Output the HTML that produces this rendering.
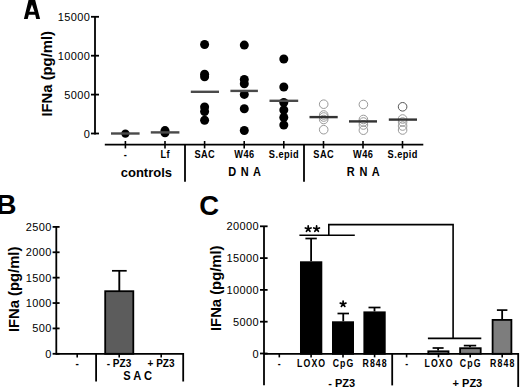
<!DOCTYPE html>
<html><head><meta charset="utf-8"><style>
html,body{margin:0;padding:0;background:#fff;}
body{width:520px;height:387px;overflow:hidden;}
svg{display:block;font-family:"Liberation Sans", sans-serif;}
</style></head><body>
<svg width="520" height="387" viewBox="0 0 520 387">
<rect width="520" height="387" fill="#fff"/>
<path fill-rule="evenodd" fill="#000" d="M23.9,18.9L28.8,-1L34.9,-1L40.1,18.9L36.2,18.9L35.2,14.7L28.8,14.7L27.7,18.9Z M29.4,11.8L34.5,11.8L31.95,4.5Z"/>
<text x="0" y="0" font-size="14.8" font-weight="bold" text-anchor="middle" transform="translate(52,73.8) rotate(-90)">IFNa (pg/ml)</text>
<line x1="95" y1="16.8" x2="95" y2="134.4" stroke="#000" stroke-width="1.8"/>
<line x1="91" y1="16.8" x2="99" y2="16.8" stroke="#000" stroke-width="1.8"/>
<text x="90.40" y="20.8" font-size="11" font-weight="normal" text-anchor="end"  letter-spacing="0.4">15000</text>
<line x1="91" y1="55.7" x2="99" y2="55.7" stroke="#000" stroke-width="1.8"/>
<text x="90.40" y="59.7" font-size="11" font-weight="normal" text-anchor="end"  letter-spacing="0.4">10000</text>
<line x1="91" y1="94.6" x2="99" y2="94.6" stroke="#000" stroke-width="1.8"/>
<text x="90.40" y="98.6" font-size="11" font-weight="normal" text-anchor="end"  letter-spacing="0.4">5000</text>
<line x1="91" y1="133.5" x2="99" y2="133.5" stroke="#000" stroke-width="1.8"/>
<text x="90.40" y="137.5" font-size="11" font-weight="normal" text-anchor="end"  letter-spacing="0.4">0</text>
<line x1="104.8" y1="144.6" x2="423.3" y2="144.6" stroke="#000" stroke-width="1.8"/>
<line x1="125.4" y1="141" x2="125.4" y2="148.4" stroke="#000" stroke-width="1.6"/>
<text x="0" y="0" font-size="10.5" font-weight="bold" text-anchor="middle" transform="translate(125.62,157.6) scale(0.88,1)"  letter-spacing="0.5">-</text>
<line x1="165" y1="141" x2="165" y2="148.4" stroke="#000" stroke-width="1.6"/>
<text x="0" y="0" font-size="10.5" font-weight="bold" text-anchor="middle" transform="translate(165.22,157.6) scale(0.88,1)"  letter-spacing="0.5">Lf</text>
<line x1="204.6" y1="141" x2="204.6" y2="148.4" stroke="#000" stroke-width="1.6"/>
<text x="0" y="0" font-size="10.5" font-weight="bold" text-anchor="middle" transform="translate(204.82,157.6) scale(0.88,1)"  letter-spacing="0.5">SAC</text>
<line x1="244.2" y1="141" x2="244.2" y2="148.4" stroke="#000" stroke-width="1.6"/>
<text x="0" y="0" font-size="10.5" font-weight="bold" text-anchor="middle" transform="translate(244.42,157.6) scale(0.88,1)"  letter-spacing="0.5">W46</text>
<line x1="283.8" y1="141" x2="283.8" y2="148.4" stroke="#000" stroke-width="1.6"/>
<text x="0" y="0" font-size="10.5" font-weight="bold" text-anchor="middle" transform="translate(284.02,157.6) scale(0.88,1)"  letter-spacing="0.5">S.epid</text>
<line x1="323.5" y1="141" x2="323.5" y2="148.4" stroke="#000" stroke-width="1.6"/>
<text x="0" y="0" font-size="10.5" font-weight="bold" text-anchor="middle" transform="translate(323.72,157.6) scale(0.88,1)"  letter-spacing="0.5">SAC</text>
<line x1="363" y1="141" x2="363" y2="148.4" stroke="#000" stroke-width="1.6"/>
<text x="0" y="0" font-size="10.5" font-weight="bold" text-anchor="middle" transform="translate(363.22,157.6) scale(0.88,1)"  letter-spacing="0.5">W46</text>
<line x1="402.5" y1="141" x2="402.5" y2="148.4" stroke="#000" stroke-width="1.6"/>
<text x="0" y="0" font-size="10.5" font-weight="bold" text-anchor="middle" transform="translate(402.72,157.6) scale(0.88,1)"  letter-spacing="0.5">S.epid</text>
<line x1="185" y1="144.5" x2="185" y2="181.8" stroke="#000" stroke-width="1.8"/>
<line x1="304" y1="144.5" x2="304" y2="181.8" stroke="#000" stroke-width="1.8"/>
<text x="146.40" y="176.6" font-size="13" font-weight="bold" text-anchor="middle" >controls</text>
<text x="0" y="0" font-size="13.4" font-weight="bold" text-anchor="middle" transform="translate(245.01,176.4) scale(0.82,1)"  letter-spacing="1.0">D N A</text>
<text x="0" y="0" font-size="13.4" font-weight="bold" text-anchor="middle" transform="translate(363.61,176.4) scale(0.82,1)"  letter-spacing="1.0">R N A</text>
<circle cx="125.4" cy="133.6" r="4.2" fill="#000"/>
<line x1="111" y1="133.5" x2="139.6" y2="133.5" stroke="#4a4a4a" stroke-width="2.4"/>
<circle cx="165" cy="130.6" r="4.5" fill="#000"/>
<circle cx="165" cy="132.8" r="4.5" fill="#000"/>
<line x1="150.8" y1="132.4" x2="179.4" y2="132.4" stroke="#4a4a4a" stroke-width="2.4"/>
<circle cx="204.6" cy="44.5" r="4.5" fill="#000"/>
<circle cx="204.6" cy="74.2" r="4.5" fill="#000"/>
<circle cx="204.6" cy="76.7" r="4.5" fill="#000"/>
<circle cx="204.6" cy="107" r="4.5" fill="#000"/>
<circle cx="204.6" cy="111.5" r="4.5" fill="#000"/>
<circle cx="204.6" cy="120.2" r="4.5" fill="#000"/>
<line x1="190.8" y1="91.8" x2="219" y2="91.8" stroke="#4a4a4a" stroke-width="2.4"/>
<circle cx="244.3" cy="45.1" r="4.5" fill="#000"/>
<circle cx="244.3" cy="79.5" r="4.5" fill="#000"/>
<circle cx="244.3" cy="83.8" r="4.5" fill="#000"/>
<circle cx="244.3" cy="94.4" r="4.5" fill="#000"/>
<circle cx="244.3" cy="108.7" r="4.5" fill="#000"/>
<circle cx="244.3" cy="130.5" r="4.5" fill="#000"/>
<line x1="230.4" y1="90.9" x2="257.9" y2="90.9" stroke="#4a4a4a" stroke-width="2.4"/>
<circle cx="283.8" cy="59" r="4.5" fill="#000"/>
<circle cx="283.8" cy="87" r="4.5" fill="#000"/>
<circle cx="283.8" cy="102.5" r="4.5" fill="#000"/>
<circle cx="283.8" cy="110" r="4.5" fill="#000"/>
<circle cx="283.8" cy="117.5" r="4.5" fill="#000"/>
<circle cx="283.8" cy="125" r="4.5" fill="#000"/>
<line x1="269.5" y1="100.8" x2="298.2" y2="100.8" stroke="#4a4a4a" stroke-width="2.4"/>
<circle cx="323.7" cy="104.2" r="4.3" fill="none" stroke="#999" stroke-width="1"/>
<circle cx="323.7" cy="115" r="4.3" fill="none" stroke="#999" stroke-width="1"/>
<circle cx="323.7" cy="117" r="4.3" fill="none" stroke="#999" stroke-width="1"/>
<circle cx="323.7" cy="119.5" r="4.3" fill="none" stroke="#999" stroke-width="1"/>
<circle cx="323.7" cy="129.7" r="4.3" fill="none" stroke="#999" stroke-width="1"/>
<line x1="309.5" y1="117.1" x2="337.7" y2="117.1" stroke="#333" stroke-width="2.4"/>
<circle cx="363.4" cy="104.5" r="4.3" fill="none" stroke="#999" stroke-width="1"/>
<circle cx="363.4" cy="119.5" r="4.3" fill="none" stroke="#999" stroke-width="1"/>
<circle cx="363.4" cy="122" r="4.3" fill="none" stroke="#999" stroke-width="1"/>
<circle cx="363.4" cy="125" r="4.3" fill="none" stroke="#999" stroke-width="1"/>
<circle cx="363.4" cy="130.2" r="4.3" fill="none" stroke="#999" stroke-width="1"/>
<line x1="349" y1="121.4" x2="377" y2="121.4" stroke="#333" stroke-width="2.4"/>
<circle cx="402.6" cy="106.8" r="4.3" fill="none" stroke="#555" stroke-width="1"/>
<circle cx="402.6" cy="119" r="4.3" fill="none" stroke="#999" stroke-width="1"/>
<circle cx="402.6" cy="122" r="4.3" fill="none" stroke="#999" stroke-width="1"/>
<circle cx="402.6" cy="126" r="4.3" fill="none" stroke="#999" stroke-width="1"/>
<circle cx="402.6" cy="130" r="4.3" fill="none" stroke="#999" stroke-width="1"/>
<line x1="388.8" y1="119.6" x2="417" y2="119.6" stroke="#333" stroke-width="2.4"/>
<text x="6.30" y="213.9" font-size="28" font-weight="bold" text-anchor="middle" >B</text>
<text x="0" y="0" font-size="14.8" font-weight="bold" text-anchor="middle" transform="translate(19.4,289.35) rotate(-90)">IFNa (pg/ml)</text>
<line x1="56.3" y1="226.9" x2="56.3" y2="354.7" stroke="#000" stroke-width="1.8"/>
<line x1="52.6" y1="226.9" x2="59.6" y2="226.9" stroke="#000" stroke-width="1.8"/>
<text x="51.90" y="230.9" font-size="11" font-weight="normal" text-anchor="end"  letter-spacing="0.4">2500</text>
<line x1="52.6" y1="252.28" x2="59.6" y2="252.28" stroke="#000" stroke-width="1.8"/>
<text x="51.90" y="256.28" font-size="11" font-weight="normal" text-anchor="end"  letter-spacing="0.4">2000</text>
<line x1="52.6" y1="277.66" x2="59.6" y2="277.66" stroke="#000" stroke-width="1.8"/>
<text x="51.90" y="281.66" font-size="11" font-weight="normal" text-anchor="end"  letter-spacing="0.4">1500</text>
<line x1="52.6" y1="303.04" x2="59.6" y2="303.04" stroke="#000" stroke-width="1.8"/>
<text x="51.90" y="307.04" font-size="11" font-weight="normal" text-anchor="end"  letter-spacing="0.4">1000</text>
<line x1="52.6" y1="328.42" x2="59.6" y2="328.42" stroke="#000" stroke-width="1.8"/>
<text x="51.90" y="332.42" font-size="11" font-weight="normal" text-anchor="end"  letter-spacing="0.4">500</text>
<line x1="52.6" y1="353.8" x2="59.6" y2="353.8" stroke="#000" stroke-width="1.8"/>
<text x="51.90" y="357.8" font-size="11" font-weight="normal" text-anchor="end"  letter-spacing="0.4">0</text>
<rect x="105.2" y="291.2" width="28.1" height="62.6" fill="#5c5c5c" stroke="#000" stroke-width="1.8"/>
<line x1="119.3" y1="291" x2="119.3" y2="270.8" stroke="#000" stroke-width="1.9"/>
<line x1="112" y1="270.8" x2="126.7" y2="270.8" stroke="#000" stroke-width="1.7"/>
<polyline points="56.3,353.8 183.2,353.8 183.2,381.6" fill="none" stroke="#000" stroke-width="1.8"/>
<line x1="77.2" y1="353.8" x2="77.2" y2="357.6" stroke="#000" stroke-width="1.6"/>
<line x1="119.2" y1="353.8" x2="119.2" y2="357.6" stroke="#000" stroke-width="1.6"/>
<line x1="161.2" y1="353.8" x2="161.2" y2="357.6" stroke="#000" stroke-width="1.6"/>
<line x1="96.1" y1="353.8" x2="96.1" y2="381.6" stroke="#000" stroke-width="1.8"/>
<text x="77.20" y="367" font-size="10" font-weight="bold" text-anchor="middle" >-</text>
<text x="119.00" y="367" font-size="10" font-weight="bold" text-anchor="middle" >- PZ3</text>
<text x="161.00" y="367" font-size="10" font-weight="bold" text-anchor="middle" >+ PZ3</text>
<text x="0" y="0" font-size="12" font-weight="bold" text-anchor="middle" transform="translate(137.60,380.2) scale(0.93,1)" >S A C</text>
<text x="209.10" y="215.4" font-size="27.5" font-weight="bold" text-anchor="middle" >C</text>
<text x="0" y="0" font-size="14.8" font-weight="bold" text-anchor="middle" transform="translate(220.5,288.25) rotate(-90)">IFNa (pg/ml)</text>
<line x1="264" y1="226.3" x2="264" y2="385.2" stroke="#000" stroke-width="1.8"/>
<line x1="260" y1="226.3" x2="267.6" y2="226.3" stroke="#000" stroke-width="1.8"/>
<text x="259.00" y="230.3" font-size="11" font-weight="normal" text-anchor="end"  letter-spacing="0.4">20000</text>
<line x1="260" y1="258.1" x2="267.6" y2="258.1" stroke="#000" stroke-width="1.8"/>
<text x="259.00" y="262.1" font-size="11" font-weight="normal" text-anchor="end"  letter-spacing="0.4">15000</text>
<line x1="260" y1="289.90000000000003" x2="267.6" y2="289.90000000000003" stroke="#000" stroke-width="1.8"/>
<text x="259.00" y="293.90000000000003" font-size="11" font-weight="normal" text-anchor="end"  letter-spacing="0.4">10000</text>
<line x1="260" y1="321.70000000000005" x2="267.6" y2="321.70000000000005" stroke="#000" stroke-width="1.8"/>
<text x="259.00" y="325.70000000000005" font-size="11" font-weight="normal" text-anchor="end"  letter-spacing="0.4">5000</text>
<line x1="260" y1="353.5" x2="267.6" y2="353.5" stroke="#000" stroke-width="1.8"/>
<text x="259.00" y="357.5" font-size="11" font-weight="normal" text-anchor="end"  letter-spacing="0.4">0</text>
<rect x="300.9" y="262.2" width="20.50000000000001" height="91.6" fill="#000" stroke="#000" stroke-width="1.8"/>
<line x1="311.1" y1="261.3" x2="311.1" y2="238.5" stroke="#000" stroke-width="1.8"/>
<line x1="305.4" y1="238.5" x2="316.8" y2="238.5" stroke="#000" stroke-width="1.7"/>
<rect x="332.9" y="322.2" width="20.2" height="31.6" fill="#000" stroke="#000" stroke-width="1.8"/>
<line x1="343.25" y1="321.3" x2="343.25" y2="313.5" stroke="#000" stroke-width="1.8"/>
<line x1="337.5" y1="313.5" x2="349" y2="313.5" stroke="#000" stroke-width="1.7"/>
<rect x="364.29999999999995" y="312.29999999999995" width="20.50000000000001" height="41.500000000000036" fill="#000" stroke="#000" stroke-width="1.8"/>
<line x1="374.5" y1="311.4" x2="374.5" y2="307.5" stroke="#000" stroke-width="1.8"/>
<line x1="368.5" y1="307.5" x2="380.5" y2="307.5" stroke="#000" stroke-width="1.7"/>
<rect x="428.29999999999995" y="351.29999999999995" width="20.2" height="2.500000000000034" fill="#7d7d7d" stroke="#000" stroke-width="1.8"/>
<line x1="438.1" y1="350.4" x2="438.1" y2="348.0" stroke="#000" stroke-width="1.8"/>
<line x1="432.6" y1="348.0" x2="443.6" y2="348.0" stroke="#000" stroke-width="1.7"/>
<rect x="460.09999999999997" y="348.2" width="20.600000000000033" height="5.6" fill="#7d7d7d" stroke="#000" stroke-width="1.8"/>
<line x1="470.0" y1="347.3" x2="470.0" y2="345.6" stroke="#000" stroke-width="1.8"/>
<line x1="463.8" y1="345.6" x2="476.2" y2="345.6" stroke="#000" stroke-width="1.7"/>
<rect x="492.59999999999997" y="319.9" width="18.799999999999965" height="33.90000000000001" fill="#7d7d7d" stroke="#000" stroke-width="1.8"/>
<line x1="502.15" y1="319" x2="502.15" y2="310.1" stroke="#000" stroke-width="1.8"/>
<line x1="496.9" y1="310.1" x2="507.4" y2="310.1" stroke="#000" stroke-width="1.7"/>
<polyline points="264,353.8 518.2,353.8 518.2,387" fill="none" stroke="#000" stroke-width="1.8"/>
<line x1="279.3" y1="353.8" x2="279.3" y2="357.4" stroke="#000" stroke-width="1.6"/>
<text x="0" y="0" font-size="10.3" font-weight="bold" text-anchor="middle" transform="translate(279.85,366.8) scale(0.85,1)"  letter-spacing="1.3">-</text>
<line x1="311.1" y1="353.8" x2="311.1" y2="357.4" stroke="#000" stroke-width="1.6"/>
<text x="0" y="0" font-size="10.3" font-weight="bold" text-anchor="middle" transform="translate(311.65,366.8) scale(0.85,1)"  letter-spacing="1.3">LOXO</text>
<line x1="343" y1="353.8" x2="343" y2="357.4" stroke="#000" stroke-width="1.6"/>
<text x="0" y="0" font-size="10.3" font-weight="bold" text-anchor="middle" transform="translate(343.55,366.8) scale(0.85,1)"  letter-spacing="1.3">CpG</text>
<line x1="374.6" y1="353.8" x2="374.6" y2="357.4" stroke="#000" stroke-width="1.6"/>
<text x="0" y="0" font-size="10.3" font-weight="bold" text-anchor="middle" transform="translate(375.15,366.8) scale(0.85,1)"  letter-spacing="1.3">R848</text>
<line x1="406.6" y1="353.8" x2="406.6" y2="357.4" stroke="#000" stroke-width="1.6"/>
<text x="0" y="0" font-size="10.3" font-weight="bold" text-anchor="middle" transform="translate(407.15,366.8) scale(0.85,1)"  letter-spacing="1.3">-</text>
<line x1="438.5" y1="353.8" x2="438.5" y2="357.4" stroke="#000" stroke-width="1.6"/>
<text x="0" y="0" font-size="10.3" font-weight="bold" text-anchor="middle" transform="translate(439.05,366.8) scale(0.85,1)"  letter-spacing="1.3">LOXO</text>
<line x1="470.2" y1="353.8" x2="470.2" y2="357.4" stroke="#000" stroke-width="1.6"/>
<text x="0" y="0" font-size="10.3" font-weight="bold" text-anchor="middle" transform="translate(470.75,366.8) scale(0.85,1)"  letter-spacing="1.3">CpG</text>
<line x1="502.2" y1="353.8" x2="502.2" y2="357.4" stroke="#000" stroke-width="1.6"/>
<text x="0" y="0" font-size="10.3" font-weight="bold" text-anchor="middle" transform="translate(502.75,366.8) scale(0.85,1)"  letter-spacing="1.3">R848</text>
<line x1="392.2" y1="353.8" x2="392.2" y2="385.4" stroke="#000" stroke-width="1.8"/>
<text x="341.70" y="387" font-size="11" font-weight="bold" text-anchor="middle" >- PZ3</text>
<text x="467.40" y="387" font-size="11" font-weight="bold" text-anchor="middle" >+ PZ3</text>
<line x1="299.4" y1="235.2" x2="354.8" y2="235.2" stroke="#000" stroke-width="1.6"/>
<polyline points="328.8,235.2 328.8,224.6 453.1,224.6 453.1,338.4" fill="none" stroke="#000" stroke-width="1.6"/>
<line x1="427.9" y1="338.4" x2="481.3" y2="338.4" stroke="#000" stroke-width="1.6"/>
<path d="M308.20,228.90L308.20,225.90M308.20,228.90L311.05,227.97M308.20,228.90L309.96,231.33M308.20,228.90L306.44,231.33M308.20,228.90L305.35,227.97" stroke="#000" stroke-width="1.7" fill="none" stroke-linecap="round"/>
<path d="M316.60,228.90L316.60,225.90M316.60,228.90L319.45,227.97M316.60,228.90L318.36,231.33M316.60,228.90L314.84,231.33M316.60,228.90L313.75,227.97" stroke="#000" stroke-width="1.7" fill="none" stroke-linecap="round"/>
<path d="M343.10,304.00L343.10,301.00M343.10,304.00L345.95,303.07M343.10,304.00L344.86,306.43M343.10,304.00L341.34,306.43M343.10,304.00L340.25,303.07" stroke="#000" stroke-width="1.7" fill="none" stroke-linecap="round"/>
</svg>
</body></html>
